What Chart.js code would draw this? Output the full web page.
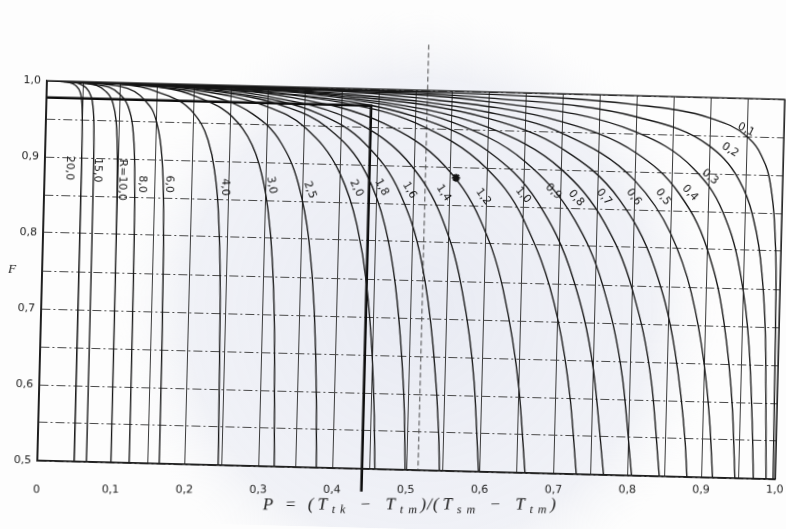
<!DOCTYPE html>
<html>
<head>
<meta charset="utf-8">
<script src="https://cdn.jsdelivr.net/npm/chart.js@4.4.0/dist/chart.umd.min.js"></script>
<style>
  html, body { margin: 0; padding: 0; background: #ffffff; }
  #wrap { width: 786px; height: 529px; position: relative; overflow: hidden; background: #fdfdfd; }
  #chart { display: block; transform: rotate(1.45deg); transform-origin: 411px 280px; }
</style>
</head>
<body>
<div id="wrap"><canvas id="chart" width="806" height="529"></canvas></div>
<script>
// Correction factor F against P, one curve per capacity ratio R.
// Each curve is a list of [P, F] pairs.
const curveR20  = [[0,1],[0.025,0.999],[0.04,0.994],[0.045,0.987],[0.0475,0.977],[0.049,0.957],[0.0495,0.934],[0.0498,0.886],[0.0499,0.826],[0.04995,0.71],[0.04997,0.5]];
const curveR15  = [[0,1],[0.0333,0.999],[0.0533,0.992],[0.0599,0.982],[0.0632,0.968],[0.0653,0.939],[0.0659,0.91],[0.0663,0.856],[0.06648,0.788],[0.06656,0.652],[0.06658,0.5]];
const curveR10  = [[0,1],[0.05,0.998],[0.08,0.988],[0.09,0.973],[0.095,0.95],[0.097,0.926],[0.0985,0.88],[0.0992,0.815],[0.0995,0.736],[0.0997,0.536],[0.09973,0.5]];
const curveR8   = [[0,1],[0.0625,0.997],[0.1,0.984],[0.1125,0.9645],[0.11875,0.934],[0.1219,0.888],[0.1231,0.837],[0.124,0.735],[0.12438,0.563],[0.12445,0.5]];
const curveR6   = [[0,1],[0.1,0.995],[0.1333,0.9775],[0.15,0.949],[0.1583,0.904],[0.1617,0.854],[0.1637,0.778],[0.1647,0.68],[0.1652,0.542],[0.16525,0.5]];
const curveR4   = [[0,1],[0.1,0.998],[0.15,0.989],[0.2,0.962],[0.22,0.928],[0.23,0.888],[0.2375,0.822],[0.2425,0.7035],[0.2445,0.563],[0.2451,0.5]];
const curveR3   = [[0,1],[0.1,0.998],[0.2,0.985],[0.2667,0.9435],[0.29,0.898],[0.3033,0.841],[0.3117,0.7685],[0.3173,0.665],[0.3203,0.54],[0.3211,0.5]];
const curveR2_5 = [[0,1],[0.1,0.998],[0.2,0.99],[0.28,0.963],[0.32,0.925],[0.344,0.873],[0.36,0.801],[0.37,0.707],[0.376,0.589],[0.3782,0.5]];
const curveR2   = [[0,1],[0.1,0.999],[0.2,0.993],[0.3,0.973],[0.35,0.948],[0.4,0.888],[0.425,0.82],[0.44,0.743],[0.45,0.649],[0.455,0.568],[0.4575,0.5]];
const curveR1_8 = [[0,1],[0.1,0.999],[0.218,0.993],[0.327,0.973],[0.381,0.948],[0.436,0.888],[0.463,0.82],[0.479,0.743],[0.49,0.649],[0.496,0.568],[0.4985,0.5]];
const curveR1_6 = [[0,1],[0.1,0.999],[0.2475,0.991],[0.371,0.965],[0.433,0.928],[0.483,0.862],[0.514,0.773],[0.532,0.665],[0.543,0.545],[0.545,0.5]];
const curveR1_4 = [[0,1],[0.1,0.999],[0.284,0.989],[0.426,0.953],[0.497,0.9],[0.54,0.832],[0.568,0.745],[0.589,0.618],[0.598,0.5]];
const curveR1_2 = [[0,1],[0.15,0.998],[0.333,0.986],[0.458,0.955],[0.542,0.901],[0.592,0.831],[0.625,0.741],[0.65,0.61],[0.661,0.5]];
const curveR1_0 = [[0,1],[0.2,0.997],[0.4,0.981],[0.5,0.957],[0.6,0.898],[0.65,0.834],[0.7,0.704],[0.72,0.597],[0.7305,0.5]];
const curveR0_9 = [[0,1],[0.15,0.999],[0.3,0.993],[0.5,0.965],[0.6,0.922],[0.67,0.855],[0.72,0.756],[0.75,0.639],[0.7675,0.5]];
const curveR0_8 = [[0,1],[0.2,0.998],[0.4,0.987],[0.55,0.959],[0.65,0.91],[0.72,0.834],[0.76,0.749],[0.79,0.627],[0.8055,0.5]];
const curveR0_7 = [[0,1],[0.2,0.998],[0.4,0.989],[0.6,0.953],[0.7,0.9005],[0.76,0.832],[0.8,0.745],[0.83,0.618],[0.843,0.5]];
const curveR0_6 = [[0,1],[0.2,0.999],[0.4,0.991],[0.6,0.965],[0.7,0.928],[0.78,0.862],[0.83,0.773],[0.86,0.665],[0.877,0.545],[0.8805,0.5]];
const curveR0_5 = [[0,1],[0.2,0.999],[0.4,0.993],[0.6,0.973],[0.7,0.948],[0.8,0.888],[0.85,0.82],[0.88,0.743],[0.9,0.649],[0.91,0.568],[0.9152,0.5]];
const curveR0_4 = [[0,1],[0.25,0.999],[0.5,0.99],[0.7,0.963],[0.8,0.925],[0.86,0.873],[0.9,0.801],[0.925,0.707],[0.94,0.589],[0.9455,0.5]];
const curveR0_3 = [[0,1],[0.3,0.998],[0.6,0.987],[0.8,0.952],[0.88,0.905],[0.92,0.85],[0.945,0.774],[0.96,0.676],[0.968,0.557],[0.9705,0.5]];
const curveR0_2 = [[0,1],[0.3,0.999],[0.6,0.992],[0.8,0.972],[0.9,0.936],[0.94,0.894],[0.96,0.848],[0.975,0.771],[0.983,0.667],[0.9877,0.5]];
const curveR0_1 = [[0,1],[0.5,0.998],[0.8,0.988],[0.9,0.973],[0.95,0.95],[0.97,0.926],[0.985,0.88],[0.992,0.815],[0.995,0.736],[0.997,0.536],[0.9973,0.5]];

const curves = [curveR20, curveR15, curveR10, curveR8, curveR6, curveR4, curveR3, curveR2_5,
                curveR2, curveR1_8, curveR1_6, curveR1_4, curveR1_2, curveR1_0, curveR0_9,
                curveR0_8, curveR0_7, curveR0_6, curveR0_5, curveR0_4, curveR0_3, curveR0_2, curveR0_1];

// Curve captions, same order as the curves
const rLabels = ['20,0','15,0','R=10,0','8,0','6,0','4,0','3,0','2,5','2,0','1,8','1,6','1,4','1,2',
                 '1,0','0,9','0,8','0,7','0,6','0,5','0,4','0,3','0,2','0,1'];

// Where each caption sits: [P, F, rotation in degrees]
const labelSpots = [[0.034,0.886,90],[0.072,0.884,90],[0.105,0.872,90],[0.132,0.867,90],[0.1695,0.868,90],
                    [0.245,0.866,88],[0.308,0.870,78],[0.360,0.865,68],[0.423,0.869,62],[0.457,0.871,60],
                    [0.495,0.868,58],[0.541,0.8655,55],[0.595,0.862,52],[0.649,0.8655,48],[0.690,0.871,42],
                    [0.721,0.863,48],[0.7586,0.8657,50],[0.799,0.8666,52],[0.8386,0.8676,52],[0.875,0.8738,45],
                    [0.9016,0.8955,38],[0.9278,0.9317,32],[0.9488,0.9586,25]];

// Axis tick labels
const pTickLabels = ['0','0,1','0,2','0,3','0,4','0,5','0,6','0,7','0,8','0,9','1,0'];
const fTickLabels = ['0,5','0,6','0,7','0,8','0,9','1,0'];

const exampleLine = [[0,0.978],[0.44,0.978],[0.44,0.47]];
// Vertical reference trace and its marker
const markerLine = [[0.516,1.06],[0.516,0.5]];
const markerPoint = [[0.5575,0.886]];

const INK = '#161616';
const TILT = 1.45 * Math.PI / 180;        // same angle as the CSS rotation of the canvas
const PIVOT = { x: 411, y: 280 };         // same as the CSS transform-origin
const tickFont = { family: '"DejaVu Sans", "Liberation Sans", sans-serif', size: 11 };

// canvas point that ends up at page point (px, py) once the canvas is turned
function unturn(px, py) {
  const dx = px - PIVOT.x, dy = py - PIVOT.y;
  const c = Math.cos(TILT), s = Math.sin(TILT);
  return { x: PIVOT.x + dx * c + dy * s, y: PIVOT.y - dx * s + dy * c };
}

const datasets = curves.map((c, i) => ({
  label: rLabels[i],
  data: c,
  showLine: true,
  borderColor: INK,
  borderWidth: 1.35,
  pointRadius: 0,
  fill: false,
  cubicInterpolationMode: 'monotone'
}));
datasets.push({
  label: 'example', data: exampleLine, showLine: true, borderColor: '#0d0d0d',
  borderWidth: 2.6, pointRadius: 0, tension: 0, clip: false
});
datasets.push({
  label: 'trace', data: markerLine, showLine: true, borderColor: '#4a4a4a',
  borderWidth: 1, borderDash: [5, 3], pointRadius: 0, tension: 0, clip: false
});
datasets.push({
  label: 'mark', data: markerPoint, showLine: false, pointStyle: 'star',
  pointRadius: 4, borderColor: '#111', borderWidth: 2
});

// faint tint of the printed page behind the plot
const pagePlugin = {
  id: 'page',
  beforeDraw(chart) {
    const { ctx } = chart;
    ctx.save();
    const g = ctx.createRadialGradient(420, 310, 20, 420, 310, 300);
    g.addColorStop(0, 'rgba(206,211,230,0.42)');
    g.addColorStop(0.75, 'rgba(214,218,234,0.34)');
    g.addColorStop(1, 'rgba(236,238,244,0)');
    ctx.fillStyle = g;
    ctx.fillRect(0, 0, chart.width, chart.height);
    ctx.restore();
  }
};

const framePlugin = {
  id: 'frame',
  afterDatasetsDraw(chart) {
    const { ctx, chartArea: a } = chart;
    ctx.save();
    ctx.strokeStyle = '#1e1e1e';
    ctx.lineWidth = 1.3;
    ctx.strokeRect(a.left, a.top, a.right - a.left, a.bottom - a.top);
    ctx.restore();
  }
};

const captionPlugin = {
  id: 'captions',
  afterDraw(chart) {
    const { ctx, scales: { x, y } } = chart;
    ctx.save();
    ctx.fillStyle = INK;
    ctx.font = '11px "DejaVu Sans", sans-serif';
    ctx.textAlign = 'center';
    ctx.textBaseline = 'middle';
    labelSpots.forEach((s, i) => {
      ctx.save();
      ctx.translate(x.getPixelForValue(s[0]), y.getPixelForValue(s[1]));
      ctx.rotate(s[2] * Math.PI / 180);
      ctx.fillText(rLabels[i], 0, 0);
      ctx.restore();
    });

    // P tick labels, kept on one level line under the axis
    ctx.fillStyle = '#222';
    ctx.font = '11px "DejaVu Sans", sans-serif';
    pTickLabels.forEach((t, k) => {
      const cx = x.getPixelForValue(k / 10);
      const dx = cx - PIVOT.x;
      const cy = PIVOT.y + ((490 - PIVOT.y) - dx * Math.sin(TILT)) / Math.cos(TILT);
      ctx.save();
      ctx.translate(cx, cy);
      ctx.rotate(-TILT);
      ctx.fillText(t, 0, 0);
      ctx.restore();
    });

    // F axis name
    ctx.fillStyle = INK;
    ctx.font = 'italic 13px "Liberation Serif", serif';
    ctx.fillText('F', 12, y.getPixelForValue(0.75));

    // P axis name with subscripts, level on the page
    const parts = [
      ['P  =  (', 'm'], ['T', 'm'], ['t k', 's'], ['  \u2212  ', 'm'], ['T', 'm'], ['t m', 's'],
      [')/(', 'm'], ['T', 'm'], ['s m', 's'], ['  \u2212  ', 'm'], ['T', 'm'], ['t m', 's'], [')', 'm']
    ];
    const mainFont = 'italic 17px "Liberation Serif", serif';
    const subFont = 'italic 12px "Liberation Serif", serif';
    const target = 294;
    ctx.letterSpacing = '1px';
    let raw = 0;
    parts.forEach(p => { ctx.font = p[1] === 'm' ? mainFont : subFont; raw += ctx.measureText(p[0]).width; });
    const gap = Math.max(0, (target - raw) / (parts.length - 1));
    const c = unturn(410, 505);
    ctx.translate(c.x, c.y);
    ctx.rotate(-TILT);
    ctx.textAlign = 'left';
    ctx.textBaseline = 'middle';
    let cx = -(raw + gap * (parts.length - 1)) / 2;
    parts.forEach(p => {
      ctx.font = p[1] === 'm' ? mainFont : subFont;
      const sub = p[1] === 's';
      ctx.fillText(p[0], cx + (sub ? 0.5 : 0), sub ? 5 : 0);
      cx += ctx.measureText(p[0]).width + gap;
    });
    ctx.restore();
  }
};

new Chart(document.getElementById('chart'), {
  type: 'scatter',
  data: { datasets },
  options: {
    responsive: false,
    animation: false,
    devicePixelRatio: 1,
    layout: { padding: { left: 0, right: 26, top: 90, bottom: 0 } },
    plugins: { legend: { display: false }, tooltip: { enabled: false } },
    scales: {
      x: {
        type: 'linear', min: 0, max: 1,
        afterFit(s) { s.height = 59; s.paddingLeft = 0; s.paddingRight = 0; },
        ticks: {
          stepSize: 0.05, autoSkip: false, maxRotation: 0, padding: 12,
          color: 'rgba(0,0,0,0)', font: tickFont,
          callback() { return ''; }
        },
        grid: { color: '#3a3a3a', lineWidth: 1, drawTicks: false },
        border: { display: true, color: '#1e1e1e', width: 1.3 }
      },
      y: {
        type: 'linear', min: 0.5, max: 1,
        afterFit(s) { s.width = 42; },
        ticks: {
          stepSize: 0.05, autoSkip: false, padding: 6,
          color: '#222', font: tickFont,
          callback(v) { const k = Math.round((v - 0.5) * 20); return k % 2 === 0 ? fTickLabels[k / 2] : ''; }
        },
        grid: { color: '#4a4a4a', lineWidth: 1, drawTicks: false },
        border: { display: true, color: '#1e1e1e', width: 1.3, dash: [9, 3, 2, 3] }
      }
    }
  },
  plugins: [pagePlugin, framePlugin, captionPlugin]
});
</script>
</body>
</html>
